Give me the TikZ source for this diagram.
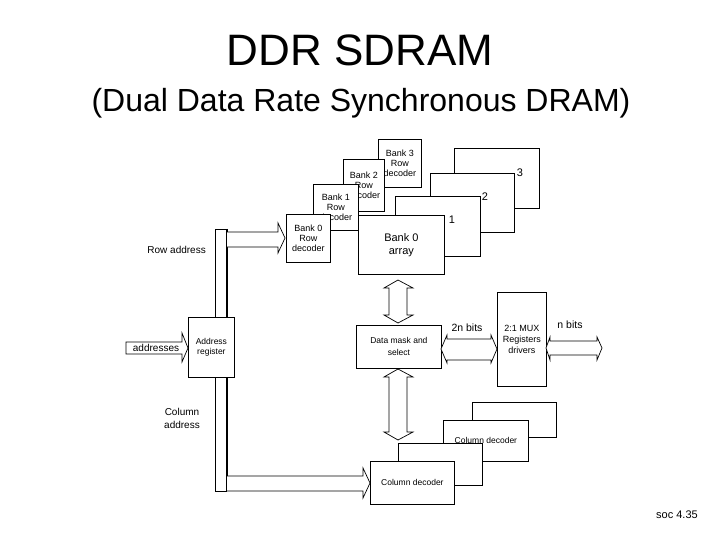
\documentclass[tikz,border=0pt]{standalone}
\usepackage{fontspec}
\setmainfont{Liberation Sans}
\begin{document}
\begin{tikzpicture}[x=1pt,y=-1pt,
  box/.style={draw,fill=white,line width=0.8pt},
  lbl/.style={font=\fontsize{9}{10}\selectfont,align=center,inner sep=0},
  blk/.style={draw,fill=white,line width=0.7pt}]
\useasboundingbox (0,0) rectangle (720,540);
\node (t1) at (360,50) {\fontsize{44}{48}\selectfont DDR SDRAM};
\node (t2) at (361,103) {\fontsize{32}{36}\selectfont (Dual Data Rate Synchronous DRAM)};
\node (soc) at (677,515) {\fontsize{11}{12}\selectfont soc 4.35};
% bank arrays and row decoders, back to front
\draw[box] (454,148) rectangle (539,208); \node[lbl,font=\fontsize{11}{12}\selectfont] (n3) at (520,173) {3};
\node[box,lbl,minimum width=43,minimum height=48,inner sep=0,anchor=north west] (rd3) at (378,139) {Bank 3\\Row\\decoder};
\draw[box] (430,173) rectangle (514,232); \node[lbl,font=\fontsize{11}{12}\selectfont] (n2) at (485,197) {2};
\node[box,lbl,minimum width=41,minimum height=52,inner sep=0,anchor=north west] (rd2) at (343,159) {Bank 2\\Row\\decoder};
\draw[box] (395,196) rectangle (480,256); \node[lbl,font=\fontsize{11}{12}\selectfont] (n1) at (452,220) {1};
\node[box,lbl,minimum width=45,minimum height=46,inner sep=0,anchor=north west] (rd1) at (313,184) {Bank 1\\Row\\decoder};
\node[box,lbl,font=\fontsize{11}{13}\selectfont,minimum width=86,minimum height=59,inner sep=0,anchor=north west] (a0) at (358,215) {Bank 0\\array};
\node[box,lbl,minimum width=44,minimum height=48,inner sep=0,anchor=north west] (rd0) at (286,214) {Bank 0\\Row\\decoder};
% address bus
\draw[line width=0.7pt] (227,229) -- (215,229) -- (215,491) -- (227,491);
\draw[line width=2pt] (227,229) -- (227,491);
\draw[blk] (227,232) -- (278,232) -- (278,223) -- (285,238) -- (278,253) -- (278,247) -- (227,247);
\draw[blk] (227,476) -- (363,476) -- (363,468) -- (370,483) -- (363,498) -- (363,491) -- (227,491);
\node[box,lbl,font=\fontsize{8.5}{10}\selectfont,minimum width=46,minimum height=60,inner sep=0,anchor=north west] (ar) at (188,317) {Address\\register};
\draw[blk] (126,342) -- (182,342) -- (182,333) -- (188,348) -- (182,362) -- (182,354) -- (126,354) -- cycle;
\node[lbl,font=\fontsize{10}{11}\selectfont] (addr) at (156,348) {addresses};
\node[lbl,font=\fontsize{10}{12}\selectfont,anchor=east] (ra) at (206,250) {Row address};
\node[lbl,font=\fontsize{10}{13}\selectfont] (ca) at (182,418) {Column\\address};
% data path
\draw[blk] (398,280) -- (413,288) -- (407,288) -- (407,315) -- (413,315) -- (398,323) -- (384,315) -- (389,315) -- (389,288) -- (384,288) -- cycle;
\node[box,lbl,font=\fontsize{8.5}{12}\selectfont,minimum width=85,minimum height=43,inner sep=0,anchor=north west] (dm) at (356,325) {Data mask and\\select};
\draw[blk] (398,369) -- (413,377) -- (407,377) -- (407,432) -- (413,432) -- (398,440) -- (384,432) -- (389,432) -- (389,377) -- (384,377) -- cycle;
\node[box,lbl,font=\fontsize{9}{11}\selectfont,minimum width=49,minimum height=94,inner sep=0,anchor=north west] (mux) at (497,292) {2:1 MUX\\Registers\\drivers};
\draw[blk] (441,349) -- (447,335) -- (447,339) -- (491,339) -- (491,335) -- (497,349) -- (491,363) -- (491,360) -- (447,360) -- (447,363) -- cycle;
\node[lbl,font=\fontsize{10.5}{12}\selectfont] (b2n) at (467,328) {2n bits};
\draw[blk] (546,348) -- (550,337) -- (550,341) -- (597,341) -- (597,337) -- (602,348) -- (597,360) -- (597,355) -- (550,355) -- (550,360) -- cycle;
\node[lbl,font=\fontsize{10.5}{12}\selectfont] (bn) at (570,325) {n bits};
% column decoders
\draw[box] (472,402) rectangle (556,437);
\node[box,lbl,font=\fontsize{8.5}{10}\selectfont,minimum width=85,minimum height=41,inner sep=0,anchor=north west] (cd2) at (443,420) {Column decoder};
\draw[box] (398,443) rectangle (482,485);
\node[box,lbl,font=\fontsize{8.5}{10}\selectfont,minimum width=84,minimum height=43,inner sep=0,anchor=north west] (cd0) at (370,461) {Column decoder};
\end{tikzpicture}
\end{document}
